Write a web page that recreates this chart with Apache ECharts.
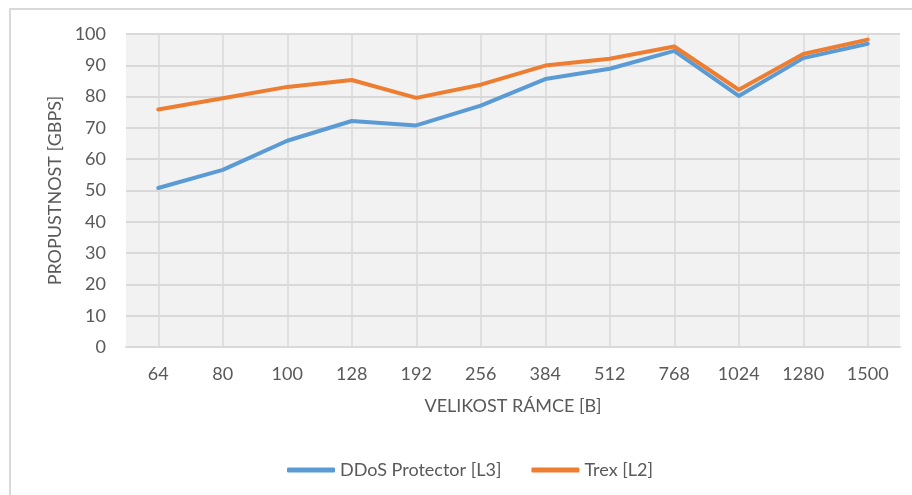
<!DOCTYPE html>
<html lang="cs">
<head>
    <meta charset="UTF-8">
    <title>Propustnost</title>
    <script src="https://cdn.jsdelivr.net/npm/echarts@6/dist/echarts.min.js"></script>
    <style>
        html, body {
            margin: 0;
            padding: 0;
            background: #fff;
        }
        #box {
            width: 912px;
            height: 495px;
        }
    </style>
</head>
<body>
<div id="box"></div>
<script>
    // velikost ramce [B]
    var frameSizes = ['64', '80', '100', '128', '192', '256', '384', '512', '768', '1024', '1280', '1500'];
    // propustnost [Gbps]
    var ddosL3 = [50.8, 56.6, 65.9, 72.2, 70.8, 77.1, 85.6, 88.9, 94.6, 80.2, 92.3, 96.9];
    var trexL2 = [75.9, 79.5, 83.1, 85.3, 79.6, 83.8, 89.9, 92.1, 96.0, 82.2, 93.6, 98.2];
    var yTicks = { min: 0, max: 100, interval: 10 };

    var font = 'Lato, "Noto Sans", sans-serif';
    var txt = '#595959';
    var gridCol = '#d9d9d9';

    var myChart = echarts.init(document.getElementById('box'));
    var option = {
        backgroundColor: '#fff',
        animation: false,
        textStyle: { fontFamily: font },
        graphic: [{
            type: 'rect',
            shape: { x: 10, y: 9, width: 1000, height: 1000 },
            style: { fill: 'none', stroke: gridCol, lineWidth: 2 },
            silent: true
        }],
        grid: {
            left: 126,
            right: 12,
            top: 34,
            bottom: 148,
            show: true,
            backgroundColor: '#f2f2f2',
            borderWidth: 0
        },
        legend: {
            left: 282,
            top: 456,
            itemWidth: 48,
            itemHeight: 5,
            itemGap: 30,
            icon: 'roundRect',
            textStyle: { color: txt, fontSize: 18, fontFamily: font },
            data: ['DDoS Protector [L3]', 'Trex [L2]']
        },
        xAxis: {
            type: 'category',
            data: frameSizes,
            boundaryGap: true,
            name: 'VELIKOST RÁMCE [B]',
            nameLocation: 'middle',
            nameGap: 50,
            nameTextStyle: { color: txt, fontSize: 18, fontFamily: font },
            axisLine: { lineStyle: { color: gridCol, width: 2 } },
            axisTick: {
                show: true,
                alignWithLabel: true,
                inside: true,
                length: 313,
                lineStyle: { color: gridCol, width: 1.5 }
            },
            axisLabel: { color: txt, fontSize: 18, margin: 18, fontFamily: font },
            splitLine: { show: false }
        },
        yAxis: {
            type: 'value',
            min: yTicks.min,
            max: yTicks.max,
            interval: yTicks.interval,
            name: 'PROPUSTNOST [GBPS]',
            nameLocation: 'middle',
            nameGap: 62,
            nameTextStyle: { color: txt, fontSize: 18, fontFamily: font },
            axisLine: { show: false },
            axisTick: { show: false },
            axisLabel: { color: txt, fontSize: 18, margin: 20, fontFamily: font },
            splitLine: { lineStyle: { color: gridCol, width: 2 } }
        },
        series: [
            {
                name: 'DDoS Protector [L3]',
                type: 'line',
                data: ddosL3,
                symbol: 'none',
                lineStyle: { color: '#5b9bd5', width: 4, cap: 'round', join: 'round' },
                itemStyle: { color: '#5b9bd5' }
            },
            {
                name: 'Trex [L2]',
                type: 'line',
                data: trexL2,
                symbol: 'none',
                lineStyle: { color: '#ed7d31', width: 4, cap: 'round', join: 'round' },
                itemStyle: { color: '#ed7d31' }
            }
        ]
    };
    myChart.setOption(option);
</script>
</body>
</html>
